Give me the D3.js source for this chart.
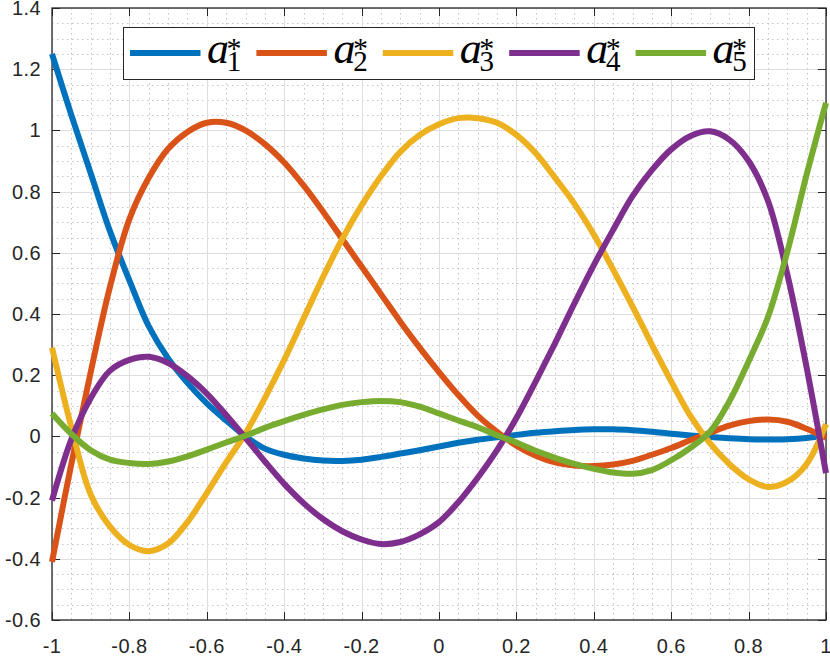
<!DOCTYPE html>
<html>
<head>
<meta charset="utf-8">
<script src="https://cdn.jsdelivr.net/npm/d3@7"></script>
<style>
  html, body { margin: 0; padding: 0; background: #fff; }
  svg { display: block; }
  .tick-label { font-family: "Liberation Sans", Arial, sans-serif; font-size: 20px; fill: #262626; letter-spacing: 0.4px; }
</style>
</head>
<body>
<div id="chart"></div>
<script>
  /********* DATA ********/
  var xValues = [-1, -0.95, -0.9, -0.85, -0.8, -0.75, -0.7, -0.65, -0.6, -0.55, -0.5, -0.45, -0.4, -0.35, -0.3,
    -0.25, -0.2, -0.15, -0.1, -0.05, 0, 0.05, 0.1, 0.15, 0.2, 0.25, 0.3, 0.35, 0.4, 0.45, 0.5, 0.55, 0.6,
    0.65, 0.7, 0.75, 0.8, 0.85, 0.9, 0.95, 1];

  var a1 = [1.25, 1.05, 0.86, 0.67, 0.51, 0.36, 0.255, 0.175, 0.108, 0.052, 0.0, -0.04, -0.06, -0.072, -0.079,
    -0.08, -0.076, -0.067, -0.056, -0.045, -0.033, -0.021, -0.011, -0.003, 0.005, 0.012, 0.017, 0.021, 0.023,
    0.023, 0.02, 0.015, 0.009, 0.003, -0.002, -0.006, -0.009, -0.01, -0.009, -0.005, 0.003];
  var a2 = [-0.41, -0.09, 0.21, 0.49, 0.71, 0.845, 0.94, 0.995, 1.025, 1.025, 1.0, 0.955, 0.895, 0.82, 0.735,
    0.645, 0.555, 0.465, 0.375, 0.29, 0.21, 0.135, 0.068, 0.015, -0.03, -0.063, -0.085, -0.095, -0.097, -0.092,
    -0.08, -0.06, -0.038, -0.012, 0.012, 0.035, 0.05, 0.055, 0.048, 0.025, -0.005];
  var a3 = [0.29, 0.03, -0.19, -0.295, -0.355, -0.375, -0.35, -0.28, -0.185, -0.085, 0.01, 0.125, 0.25, 0.385,
    0.52, 0.645, 0.755, 0.85, 0.93, 0.985, 1.02, 1.04, 1.04, 1.025, 0.985, 0.925, 0.845, 0.76, 0.66, 0.545,
    0.425, 0.30, 0.18, 0.066, -0.022, -0.09, -0.14, -0.165, -0.148, -0.09, 0.04];
  var a4 = [-0.21, -0.01, 0.125, 0.215, 0.25, 0.26, 0.24, 0.197, 0.14, 0.07, -0.005, -0.082, -0.155, -0.218,
    -0.27, -0.31, -0.337, -0.352, -0.345, -0.32, -0.28, -0.215, -0.135, -0.045, 0.06, 0.18, 0.305, 0.435, 0.56,
    0.675, 0.785, 0.87, 0.938, 0.982, 0.997, 0.97, 0.9, 0.77, 0.53, 0.225, -0.12];
  var a5 = [0.075, 0.008, -0.045, -0.076, -0.087, -0.09, -0.082, -0.065, -0.043, -0.02, 0.002, 0.028, 0.05,
    0.07, 0.088, 0.103, 0.112, 0.116, 0.112, 0.097, 0.075, 0.052, 0.03, 0.004, -0.02, -0.047, -0.07, -0.09,
    -0.106, -0.118, -0.122, -0.11, -0.078, -0.037, 0.015, 0.114, 0.245, 0.39, 0.603, 0.856, 1.09];

  var seriesNames = ["1", "2", "3", "4", "5"];
  var seriesColors = ["#0072BD", "#D95319", "#EDB120", "#7E2F8E", "#77AC30"];
  var seriesValues = [a1, a2, a3, a4, a5];

  var xTicks = [-1, -0.8, -0.6, -0.4, -0.2, 0, 0.2, 0.4, 0.6, 0.8, 1];
  var xTickLabels = ["-1", "-0.8", "-0.6", "-0.4", "-0.2", "0", "0.2", "0.4", "0.6", "0.8", "1"];
  var yTicks = [-0.6, -0.4, -0.2, 0, 0.2, 0.4, 0.6, 0.8, 1, 1.2, 1.4];
  var yTickLabels = ["-0.6", "-0.4", "-0.2", "0", "0.2", "0.4", "0.6", "0.8", "1", "1.2", "1.4"];

  (function () {
    /********* LAYOUT ********/
    var W = 830, H = 657;
    var plotLeft = 52, plotRight = 826, plotTop = 8, plotBottom = 620;
    var axisColor = "#262626";
    var tickLen = 8;

    var svg = d3.select("#chart").append("svg")
      .attr("width", W)
      .attr("height", H);

    var x = d3.scaleLinear().domain([-1, 1]).range([plotLeft, plotRight]);
    var y = d3.scaleLinear().domain([-0.6, 1.4]).range([plotBottom, plotTop]);

    /********* GRID ********/
    var xMinor = d3.range(-20, 21).map(function (i) { return i / 20; });
    var yMinor = d3.range(-12, 29).map(function (i) { return i / 20; });

    var grid = svg.append("g");
    grid.selectAll(".minor-x")
      .data(xMinor)
      .enter().append("line")
      .attr("x1", function (d) { return Math.round(x(d)) + 0.5; })
      .attr("x2", function (d) { return Math.round(x(d)) + 0.5; })
      .attr("y1", plotTop).attr("y2", plotBottom)
      .attr("stroke", "#c4c4c4")
      .attr("stroke-width", 1)
      .attr("stroke-dasharray", "1.5,3.5");
    grid.selectAll(".minor-y")
      .data(yMinor)
      .enter().append("line")
      .attr("y1", function (d) { return Math.round(y(d)) + 0.5; })
      .attr("y2", function (d) { return Math.round(y(d)) + 0.5; })
      .attr("x1", plotLeft).attr("x2", plotRight)
      .attr("stroke", "#c4c4c4")
      .attr("stroke-width", 1)
      .attr("stroke-dasharray", "1.5,3.5");

    grid.selectAll(".major-x")
      .data(xTicks)
      .enter().append("line")
      .attr("x1", function (d) { return Math.round(x(d)) + 0.5; })
      .attr("x2", function (d) { return Math.round(x(d)) + 0.5; })
      .attr("y1", plotTop).attr("y2", plotBottom)
      .attr("stroke", "#dedede")
      .attr("stroke-width", 1);
    grid.selectAll(".major-y")
      .data(yTicks)
      .enter().append("line")
      .attr("y1", function (d) { return Math.round(y(d)) + 0.5; })
      .attr("y2", function (d) { return Math.round(y(d)) + 0.5; })
      .attr("x1", plotLeft).attr("x2", plotRight)
      .attr("stroke", "#dedede")
      .attr("stroke-width", 1);

    /********* AXES ********/
    var axes = svg.append("g");
    axes.append("rect")
      .attr("x", plotLeft).attr("y", plotTop)
      .attr("width", plotRight - plotLeft).attr("height", plotBottom - plotTop)
      .attr("fill", "none")
      .attr("stroke", axisColor)
      .attr("stroke-width", 1.3);

    xTicks.forEach(function (d, i) {
      var px = Math.round(x(d)) + 0.5;
      axes.append("line").attr("x1", px).attr("x2", px).attr("y1", plotBottom).attr("y2", plotBottom - tickLen)
        .attr("stroke", axisColor).attr("stroke-width", 1);
      axes.append("line").attr("x1", px).attr("x2", px).attr("y1", plotTop).attr("y2", plotTop + tickLen)
        .attr("stroke", axisColor).attr("stroke-width", 1);
      axes.append("text")
        .attr("class", "tick-label")
        .attr("x", x(d))
        .attr("y", 653)
        .attr("text-anchor", "middle")
        .text(xTickLabels[i]);
    });
    yTicks.forEach(function (d, i) {
      var py = Math.round(y(d)) + 0.5;
      axes.append("line").attr("y1", py).attr("y2", py).attr("x1", plotLeft).attr("x2", plotLeft + tickLen)
        .attr("stroke", axisColor).attr("stroke-width", 1);
      axes.append("line").attr("y1", py).attr("y2", py).attr("x1", plotRight).attr("x2", plotRight - tickLen)
        .attr("stroke", axisColor).attr("stroke-width", 1);
      axes.append("text")
        .attr("class", "tick-label")
        .attr("x", 41)
        .attr("y", y(d) + 7)
        .attr("text-anchor", "end")
        .text(yTickLabels[i]);
    });

    /********* LINES ********/
    var line = d3.line()
      .x(function (d) { return x(d[0]); })
      .y(function (d) { return y(d[1]); })
      .curve(d3.curveCatmullRom.alpha(0.5));

    seriesValues.forEach(function (vals, k) {
      svg.append("path")
        .datum(xValues.map(function (xv, i) { return [xv, vals[i]]; }))
        .attr("d", line)
        .attr("fill", "none")
        .attr("stroke", seriesColors[k])
        .attr("stroke-width", 6)
        .attr("stroke-linejoin", "round");
    });

    /********* LEGEND ********/
    var legend = svg.append("g");
    legend.append("rect")
      .attr("x", 123.5).attr("y", 27.5)
      .attr("width", 631).attr("height", 52)
      .attr("fill", "#fff")
      .attr("stroke", axisColor)
      .attr("stroke-width", 1);

    var step = 126.4;
    seriesNames.forEach(function (name, k) {
      var x0 = 130 + k * step;
      legend.append("line")
        .attr("x1", x0).attr("x2", x0 + 70.5)
        .attr("y1", 53).attr("y2", 53)
        .attr("stroke", seriesColors[k])
        .attr("stroke-width", 6);
      var tx = x0 + 77;
      legend.append("text")
        .attr("x", tx).attr("y", 63)
        .style("font-family", "'Liberation Serif', 'Times New Roman', serif")
        .style("font-style", "italic")
        .style("font-size", "44px")
        .attr("fill", "#000")
        .text("a");
      legend.append("text")
        .attr("x", tx + 27).attr("y", 58)
        .attr("text-anchor", "middle")
        .style("font-family", "'Liberation Serif', 'Times New Roman', serif")
        .style("font-size", "30px")
        .attr("fill", "#000")
        .text("*");
      legend.append("text")
        .attr("x", tx + 27).attr("y", 71)
        .attr("text-anchor", "middle")
        .style("font-family", "'Liberation Serif', 'Times New Roman', serif")
        .style("font-size", "29px")
        .attr("fill", "#000")
        .text(name);
    });
  })();
</script>
</body>
</html>
